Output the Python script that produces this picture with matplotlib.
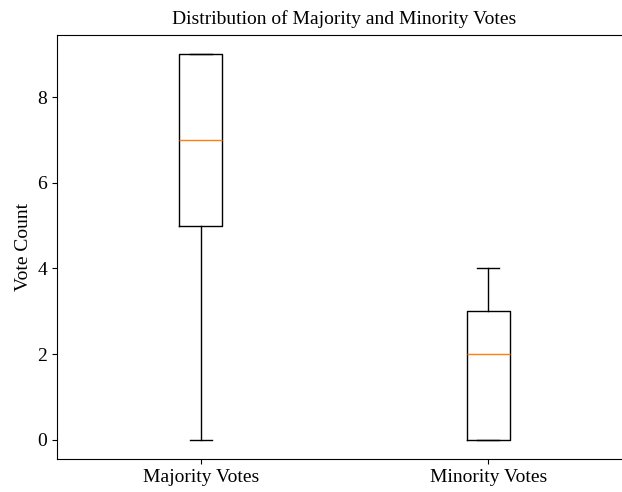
import matplotlib
matplotlib.use("Agg")
import matplotlib.pyplot as plt

plt.rcParams['font.family'] = ['Liberation Serif', 'DejaVu Serif']

labels = ['Majority Votes', 'Minority Votes']
majority_votes = [0, 5, 5, 6, 7, 8, 9, 9, 9]
minority_votes = [0, 0, 0, 1, 2, 3, 3, 3, 4]

fig = plt.figure(figsize=(6.22, 4.92), dpi=100)
ax = fig.add_axes([57 / 622, 33 / 492, 575 / 622, 424 / 492])

ax.boxplot([majority_votes, minority_votes], widths=0.15)
ax.set_xticks([1, 2])
ax.set_xticklabels(labels)

ax.set_title("Distribution of Majority and Minority Votes", fontsize=14, pad=8)
ax.set_ylabel("Vote Count", fontsize=14)
ax.tick_params(labelsize=14)

fig.savefig("out.png", dpi=100)
